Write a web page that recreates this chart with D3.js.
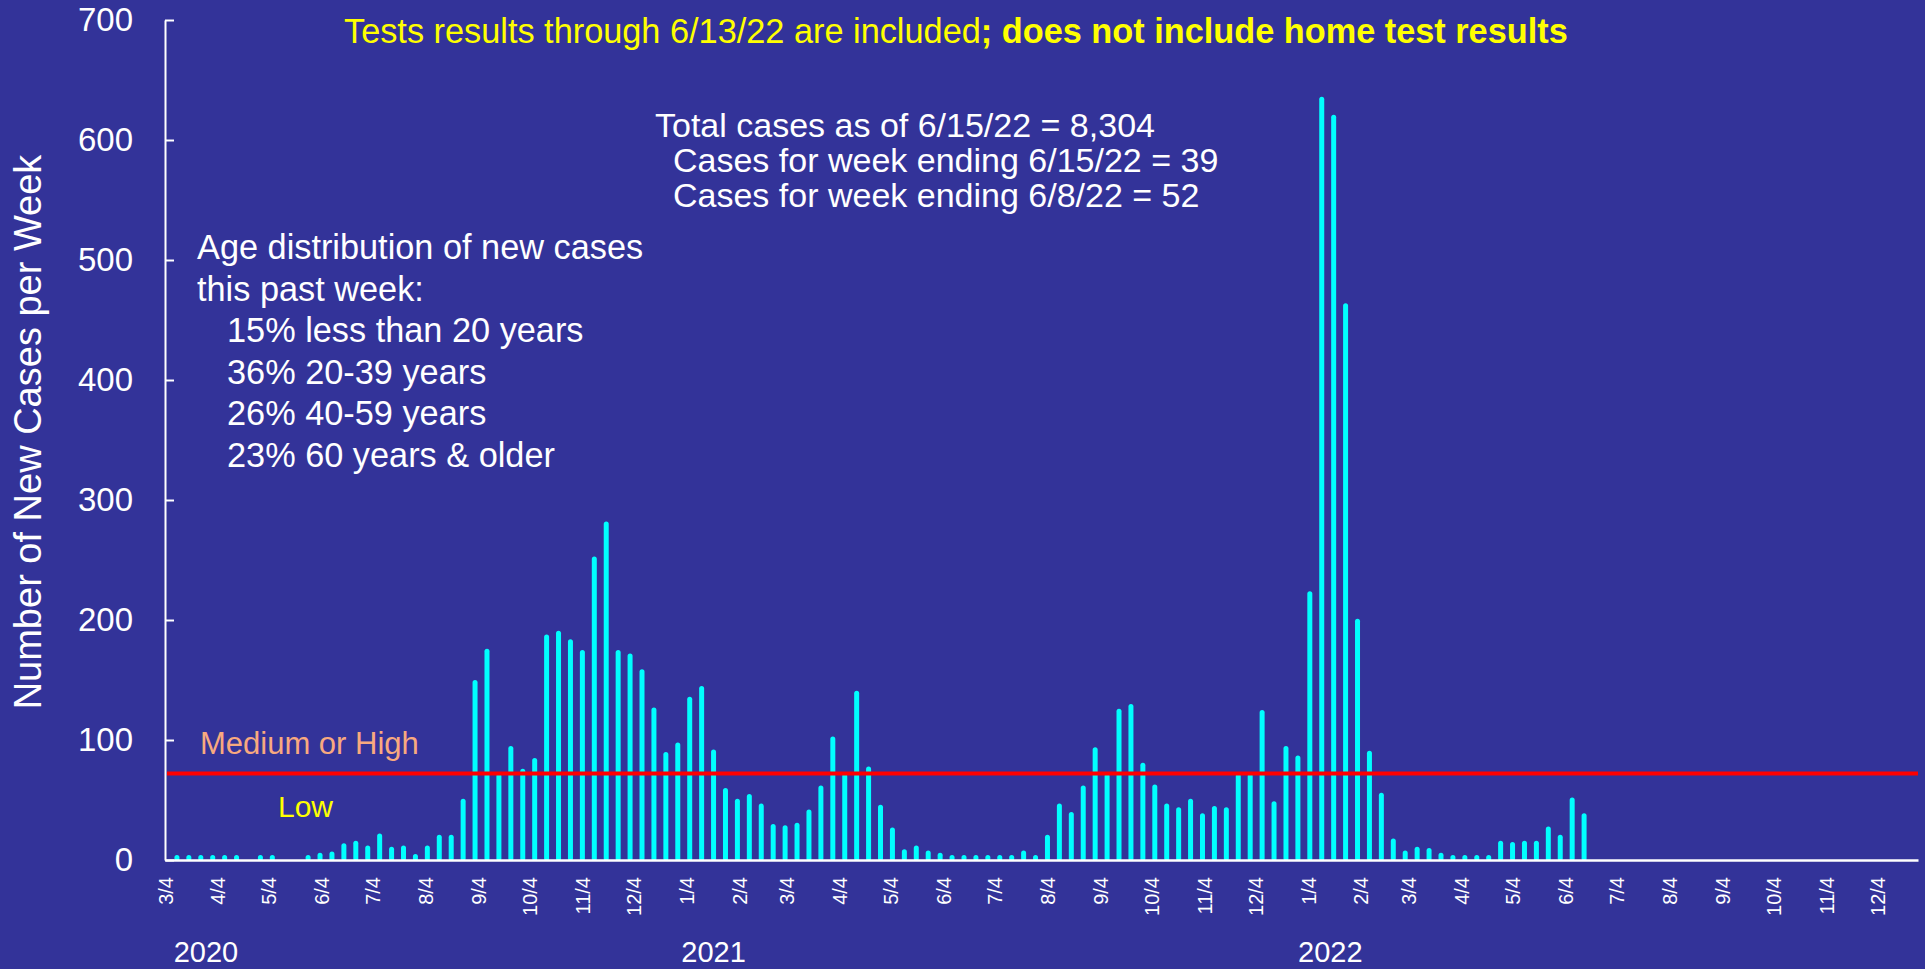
<!DOCTYPE html>
<html>
<head>
<meta charset="utf-8">
<script src="https://cdn.jsdelivr.net/npm/d3@7"></script>
<style>
  html, body { margin: 0; padding: 0; background: #333399; overflow: hidden; }
  svg { display: block; font-family: "Liberation Sans", Arial, sans-serif; }
</style>
</head>
<body>
<svg width="1925" height="969"></svg>
<script>
// weekly new cases, week ending on Wednesdays, first week ends 3/11/2020
var firstWeek = "2020-03-11";
var cases = [
  2, 2, 3, 2, 2, 3, 0, 4, 3, 0,
  0, 1, 6, 7, 14, 16, 12, 22, 11, 12,
  5, 12, 21, 21, 51, 150, 176, 72, 95, 76,
  85, 188, 191, 184, 175, 253, 282, 175, 172, 159,
  127, 90, 98, 136, 145, 92, 60, 51, 55, 47,
  30, 29, 31, 42, 62, 103, 72, 141, 78, 46,
  27, 9, 12, 8, 6, 2, 4, 1, 3, 4,
  4, 8, 3, 21, 47, 40, 62, 94, 72, 126,
  130, 81, 63, 47, 44, 51, 39, 45, 44, 72,
  72, 125, 49, 95, 87, 224, 636, 621, 464, 201,
  91, 56, 18, 8, 11, 10, 6, 2, 3, 4,
  2, 16, 15, 16, 16, 28, 21, 52, 39
];
var threshold = 72;
var yTicks = [0, 100, 200, 300, 400, 500, 600, 700];
var xDomain = ["2020-03-04", "2022-12-28"];
var years = ["2020", "2021", "2022"];
var yearPos = ["2020-03-28", "2021-01-20", "2022-01-17"];

var titleText = "Tests results through 6/13/22 are included";
var titleBold = "; does not include home test results";
var totalLines = [
  "Total cases as of 6/15/22 = 8,304",
  "Cases for week ending 6/15/22 = 39",
  "Cases for week ending 6/8/22 = 52"
];
var ageLines = [
  "Age distribution of new cases",
  "this past week:",
  "15% less than 20 years",
  "36% 20-39 years",
  "26% 40-59 years",
  "23% 60 years & older"
];

var parse = d3.timeParse("%Y-%m-%d");
var svg = d3.select("svg");

var x = d3.scaleTime()
    .domain(xDomain.map(parse))
    .range([165, 1918]);

var y = d3.scaleLinear()
    .domain([0, 700])
    .range([860, 20]);

var start = parse(firstWeek);
var weeks = cases.map(function(v, i) {
    return { date: d3.timeDay.offset(start, 7 * i), value: v };
});

// month ticks on the 4th
var monthTicks = d3.timeMonth.range(parse("2020-03-01"), parse("2022-12-02"))
    .map(function(d) { return d3.timeDay.offset(d, 3); });

// bars
svg.append("g")
    .selectAll("rect")
    .data(weeks.filter(function(d) { return d.value > 0; }))
    .enter().append("rect")
        .attr("x", function(d) { return x(d.date) - 2.5; })
        .attr("width", 5)
        .attr("y", function(d) { return Math.min(y(d.value), y(0) - 5); })
        .attr("height", function(d) { return y(0) - Math.min(y(d.value), y(0) - 5) + 1; })
        .attr("rx", 2.5)
        .attr("fill", "#00ffff");

// y axis
var yAxis = svg.append("g")
    .attr("transform", "translate(165,0)")
    .call(d3.axisLeft(y).tickValues(yTicks).tickSize(-9).tickSizeOuter(0).tickPadding(32));
yAxis.select(".domain").attr("stroke", "#fff").attr("stroke-width", 2);
yAxis.selectAll(".tick line").attr("stroke", "#fff").attr("stroke-width", 2);
yAxis.selectAll(".tick text")
    .attr("fill", "#fff")
    .style("font-size", "33px")
    .style("font-family", "'Liberation Sans', Arial, sans-serif");

// x axis
var xAxis = svg.append("g")
    .attr("transform", "translate(0,860)")
    .call(d3.axisBottom(x).tickValues(monthTicks).tickSize(0).tickSizeOuter(0)
        .tickFormat(d3.timeFormat("%-m/%-d")));
xAxis.select(".domain").attr("stroke", "#fff").attr("stroke-width", 2.5);
xAxis.selectAll(".tick text")
    .attr("fill", "#fff")
    .attr("transform", "rotate(-90)")
    .attr("x", -17)
    .attr("y", 0)
    .attr("dy", "0.35em")
    .style("text-anchor", "end")
    .style("font-size", "20px")
    .style("font-family", "'Liberation Sans', Arial, sans-serif");

// year labels
svg.append("g")
    .selectAll("text")
    .data(years)
    .enter().append("text")
        .attr("x", function(d, i) { return x(parse(yearPos[i])); })
        .attr("y", 962)
        .attr("text-anchor", "middle")
        .attr("fill", "#fff")
        .style("font-size", "29px")
        .text(function(d) { return d; });

// threshold line
svg.append("line")
    .attr("x1", 167)
    .attr("x2", 1918)
    .attr("y1", y(threshold))
    .attr("y2", y(threshold))
    .attr("stroke", "#ff0000")
    .attr("stroke-width", 4);

svg.append("text")
    .attr("x", 200)
    .attr("y", 754)
    .attr("fill", "#f8a97f")
    .style("font-size", "31px")
    .text("Medium or High");

svg.append("text")
    .attr("x", 278)
    .attr("y", 817)
    .attr("fill", "#ffff00")
    .style("font-size", "30px")
    .text("Low");

// y axis title
svg.append("text")
    .attr("transform", "translate(41," + ((y(0) + y(700)) / 2 - 8) + ") rotate(-90)")
    .attr("text-anchor", "middle")
    .attr("fill", "#fff")
    .style("font-size", "38px")
    .text("Number of New Cases per Week");

// title
var title = svg.append("text")
    .attr("x", 344)
    .attr("y", 43)
    .attr("fill", "#ffff00")
    .style("font-size", "34.3px");
title.append("tspan").text(titleText);
title.append("tspan").style("font-weight", "bold").text(titleBold);

// totals block
svg.append("g")
    .selectAll("text")
    .data(totalLines)
    .enter().append("text")
        .attr("x", function(d, i) { return i === 0 ? 655 : 673; })
        .attr("y", function(d, i) { return 137 + i * 35; })
        .attr("fill", "#fff")
        .style("font-size", "34px")
        .text(function(d) { return d; });

// age block
svg.append("g")
    .selectAll("text")
    .data(ageLines)
    .enter().append("text")
        .attr("x", function(d, i) { return i < 2 ? 197 : 227; })
        .attr("y", function(d, i) { return 259 + i * 41.6; })
        .attr("fill", "#fff")
        .style("font-size", "34.3px")
        .text(function(d) { return d; });
</script>
</body>
</html>
